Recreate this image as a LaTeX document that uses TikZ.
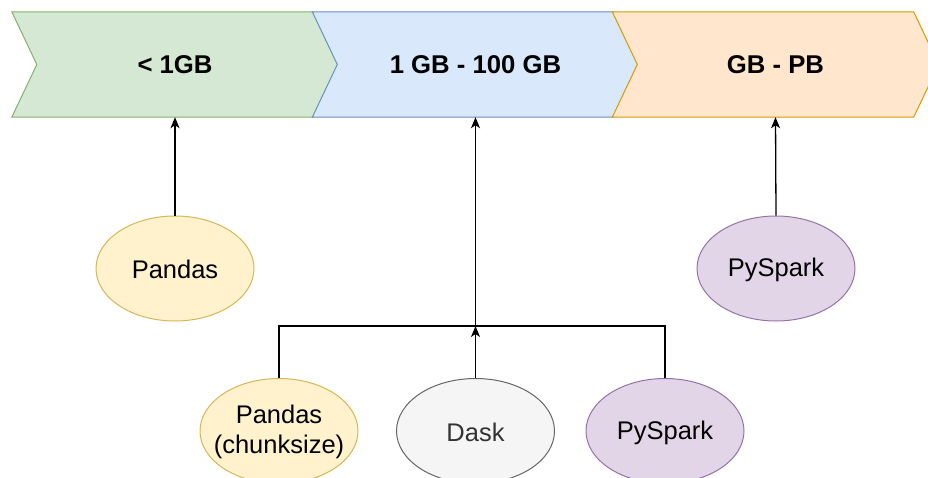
\documentclass[tikz,border=0pt]{standalone}
\usepackage{fontspec}
\setmainfont{Liberation Sans}
\usetikzlibrary{shapes.geometric,arrows.meta}

\definecolor{greenfill}{HTML}{D5E8D4}\definecolor{greenline}{HTML}{82B366}
\definecolor{bluefill}{HTML}{DAE8FC}\definecolor{blueline}{HTML}{6C8EBF}
\definecolor{orangefill}{HTML}{FFE6CC}\definecolor{orangeline}{HTML}{D79B00}
\definecolor{yellowfill}{HTML}{FFF2CC}\definecolor{yellowline}{HTML}{D6B656}
\definecolor{greyfill}{HTML}{F5F5F5}\definecolor{greyline}{HTML}{666666}
\definecolor{greytext}{HTML}{333333}
\definecolor{purplefill}{HTML}{E1D5E7}\definecolor{purpleline}{HTML}{9673A6}

\tikzset{
  stagebox/.style={minimum width=326pt, minimum height=105pt, inner sep=0pt,
    font=\fontsize{25.7}{30}\selectfont\bfseries},
  tool/.style={ellipse, draw, line width=1pt, minimum width=158pt, minimum height=105pt,
    inner sep=0pt},
  toollabel/.style={align=center, inner sep=0pt, font=\fontsize{25.5}{30}\selectfont},
  link/.style={line width=1.3pt, draw=black},
  arrowlink/.style={link, -{Stealth[length=11pt,width=9pt,inset=3pt]}},
}

% draws a chevron filling the box of the given node
\newcommand{\chevronshape}[3]{%
  \path[fill=#2, draw=#3, line width=1pt]
    (#1.north west) -- ([xshift=-25pt]#1.north east) -- (#1.east)
    -- ([xshift=-25pt]#1.south east) -- (#1.south west)
    -- ([xshift=25pt]#1.west) -- cycle;}

\begin{document}
\begin{tikzpicture}[x=1pt, y=-1pt]
  \useasboundingbox (0,0) rectangle (928,477);
  \clip (0,0) rectangle (928,477);

  % stages along the size axis
  \path (175,64.5)   node[stagebox] (c1) {};
  \path (475.5,64.5) node[stagebox] (c2) {};
  \path (775.5,64.5) node[stagebox] (c3) {};
  \chevronshape{c1}{greenfill}{greenline}
  \chevronshape{c2}{bluefill}{blueline}
  \chevronshape{c3}{orangefill}{orangeline}
  \path (c1.center) node[stagebox] {< 1GB};
  \path (c2.center) node[stagebox] {1 GB - 100 GB};
  \path (c3.center) node[stagebox] {GB - PB};

  % tools
  \node[tool, fill=yellowfill, draw=yellowline] (pandas) at (175,268.5) {};
  \node[tool, fill=purplefill, draw=purpleline] (spark) at (776,268.5) {};
  \node[tool, fill=yellowfill, draw=yellowline] (chunk) at (279,431) {};
  \node[tool, fill=greyfill, draw=greyline] (dask) at (475.5,431) {};
  \node[tool, fill=purplefill, draw=purpleline] (spark2) at (665,431) {};

  \node[toollabel] at ([yshift=-1pt]pandas.center) {Pandas};
  \node[toollabel] at ([yshift=-1pt]spark.center) {PySpark};
  \node[toollabel] at ([yshift=-1pt]chunk.center) {Pandas\\(chunksize)};
  \node[toollabel, text=greytext] at ([yshift=-1pt]dask.center) {Dask};
  \node[toollabel] at ([yshift=-2pt]spark2.center) {PySpark};

  \coordinate (bus) at (475.5,326);

  % connectors
  \draw[arrowlink] (pandas.north) -- (c1.south);
  \draw[arrowlink] (spark.north) -- (c3.south);
  \draw[link] (chunk.north) |- (bus);
  \draw[link] (spark2.north) |- (bus);
  \draw[arrowlink] (dask.north) -- (bus);
  \draw[arrowlink] (bus) -- (c2.south);
\end{tikzpicture}
\end{document}
